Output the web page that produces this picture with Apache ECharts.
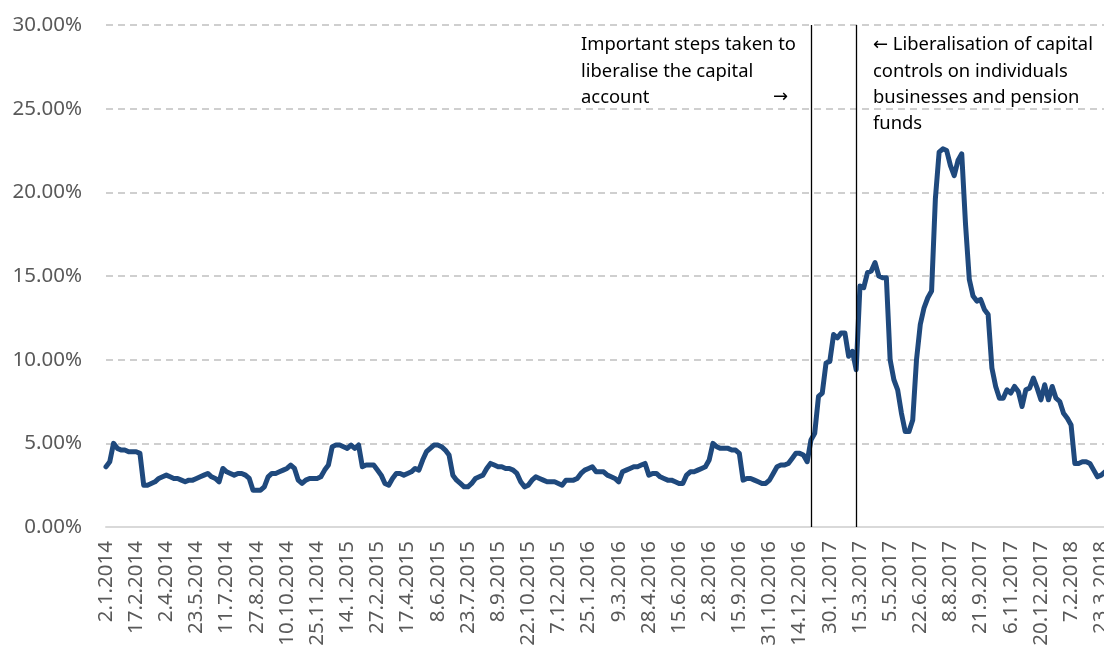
<!DOCTYPE html>
<html>
<head>
<meta charset="utf-8">
<script src="https://cdn.jsdelivr.net/npm/echarts@6/dist/echarts.min.js"></script>
<style>
html,body{margin:0;padding:0;background:#fff;}
#chart{width:1104px;height:649px;}
</style>
</head>
<body>
<div id="chart"></div>
<script>
// Tick labels (every 32 trading days)
const tickLabels = ['2.1.2014','17.2.2014','2.4.2014','23.5.2014','11.7.2014','27.8.2014','10.10.2014','25.11.2014',
  '14.1.2015','27.2.2015','17.4.2015','8.6.2015','23.7.2015','8.9.2015','22.10.2015','7.12.2015',
  '25.1.2016','9.3.2016','28.4.2016','15.6.2016','2.8.2016','15.9.2016','31.10.2016','14.12.2016',
  '30.1.2017','15.3.2017','5.5.2017','22.6.2017','8.8.2017','21.9.2017','6.11.2017','20.12.2017',
  '7.2.2018','23.3.2018'];
// Samples per tick interval (one sample every 4 trading days)
const samplesPerTick = 8;
// Series values (%), one every 4 trading days from 2.1.2014
const values = [
  3.6,3.9,5.0,4.7,4.6,4.6,4.5,4.5,4.5,4.4,
  2.5,2.5,2.6,2.7,2.9,3.0,3.1,3.0,2.9,2.9,
  2.8,2.7,2.8,2.8,2.9,3.0,3.1,3.2,3.0,2.9,
  2.7,3.5,3.3,3.2,3.1,3.2,3.2,3.1,2.9,2.2,
  2.2,2.2,2.4,3.0,3.2,3.2,3.3,3.4,3.5,3.7,
  3.5,2.8,2.6,2.8,2.9,2.9,2.9,3.0,3.4,3.7,
  4.8,4.9,4.9,4.8,4.7,4.9,4.7,4.9,3.6,3.7,
  3.7,3.7,3.4,3.1,2.6,2.5,2.9,3.2,3.2,3.1,
  3.2,3.3,3.5,3.4,4.0,4.5,4.7,4.9,4.9,4.8,
  4.6,4.3,3.1,2.8,2.6,2.4,2.4,2.6,2.9,3.0,
  3.1,3.5,3.8,3.7,3.6,3.6,3.5,3.5,3.4,3.2,
  2.7,2.4,2.5,2.8,3.0,2.9,2.8,2.7,2.7,2.7,
  2.6,2.5,2.8,2.8,2.8,2.9,3.2,3.4,3.5,3.6,
  3.3,3.3,3.3,3.1,3.0,2.9,2.7,3.3,3.4,3.5,
  3.6,3.6,3.7,3.8,3.1,3.2,3.2,3.0,2.9,2.8,
  2.8,2.7,2.6,2.6,3.1,3.3,3.3,3.4,3.5,3.6,
  4.0,5.0,4.8,4.7,4.7,4.7,4.6,4.6,4.4,2.8,
  2.9,2.9,2.8,2.7,2.6,2.6,2.8,3.2,3.6,3.7,
  3.7,3.8,4.1,4.4,4.4,4.3,3.9,5.2,5.6,7.8,
  8.0,9.8,9.9,11.5,11.3,11.6,11.6,10.2,10.5,9.4,
  14.4,14.3,15.2,15.3,15.8,15.0,14.9,14.9,10.0,8.8,
  8.2,6.8,5.7,5.7,6.4,10.0,12.1,13.1,13.7,14.1,
  19.6,22.4,22.6,22.5,21.6,21.0,21.9,22.3,18.1,14.8,
  13.8,13.5,13.6,13.0,12.7,9.5,8.4,7.7,7.7,8.2,
  8.0,8.4,8.1,7.2,8.2,8.3,8.9,8.3,7.6,8.5,
  7.6,8.4,7.7,7.5,6.8,6.5,6.1,3.8,3.8,3.9,
  3.9,3.8,3.4,3.0,3.1,3.3
];
// Event positions (sample index): capital account liberalisation steps
const eventSamples = [187, 199];
const yTicks = {min: 0, max: 30, interval: 5};

// Build category list from tick labels
const categories = values.map((v, i) => {
  const t = Math.floor(i / samplesPerTick);
  const k = i % samplesPerTick;
  const base = tickLabels[Math.min(t, tickLabels.length - 1)];
  return k === 0 && t < tickLabels.length ? base : base + '#' + k;
});

const font = 'Noto Sans';
const chart = echarts.init(document.getElementById('chart'), null, {renderer: 'canvas'});
chart.setOption({
  animation: false,
  backgroundColor: '#fff',
  grid: {left: 106, top: 25, width: 999, height: 502, containLabel: false, outerBoundsMode: 'none'},
  xAxis: {
    type: 'category',
    data: categories,
    boundaryGap: false,
    axisLine: {show: true, lineStyle: {color: '#d9d9d9', width: 2}},
    axisTick: {show: false},
    splitLine: {show: false},
    axisLabel: {
      interval: samplesPerTick - 1,
      rotate: 90,
      margin: 14,
      fontFamily: font,
      fontSize: 20.5,
      color: '#595959',
      formatter: v => v.indexOf('#') >= 0 ? '' : v
    }
  },
  yAxis: {
    type: 'value',
    min: yTicks.min, max: yTicks.max, interval: yTicks.interval,
    axisLine: {show: false},
    axisTick: {show: false},
    splitLine: {show: true, lineStyle: {color: '#c0c0c0', width: 1.5, type: [7, 5]}},
    axisLabel: {
      margin: 24,
      fontFamily: font,
      fontSize: 20.5,
      color: '#595959',
      formatter: v => v.toFixed(2) + '%'
    }
  },
  series: [{
    type: 'line',
    data: values,
    showSymbol: false,
    symbol: 'none',
    lineStyle: {color: '#1f497d', width: 5, join: 'round', cap: 'round'},
    itemStyle: {color: '#1f497d'},
    markLine: {
      silent: true,
      symbol: ['none', 'none'],
      label: {show: false},
      lineStyle: {color: '#000', width: 1.3, type: 'solid'},
      data: eventSamples.map(i => ({xAxis: categories[i]}))
    }
  }],
  graphic: [
    {type: 'text', left: 581, top: 32, style: {
      text: 'Important steps taken to\nliberalise the capital\naccount',
      font: '18.4px "Noto Sans"', fill: '#000', lineHeight: 26.3}},
    {type: 'text', left: 773, top: 84.6, style: {
      text: '\u2192', font: '18px "DejaVu Sans"', fill: '#000', lineHeight: 26.3}},
    {type: 'text', left: 873, top: 32, style: {
      text: '{a|\u2190} Liberalisation of capital\ncontrols on individuals\nbusinesses and pension\nfunds',
      font: '18.4px "Noto Sans"', fill: '#000', lineHeight: 26.3,
      rich: {a: {font: '18px "DejaVu Sans"', fill: '#000', lineHeight: 26.3}}}}
  ]
});
</script>
</body>
</html>
